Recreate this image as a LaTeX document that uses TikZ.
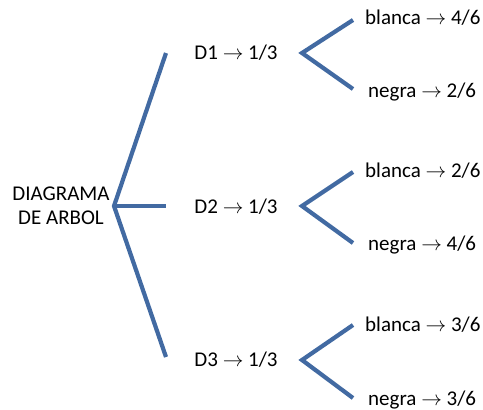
\documentclass[tikz,border=0pt]{standalone}
\usepackage{fontspec}
\setmainfont{Carlito}
\begin{document}
\begin{tikzpicture}[x=1bp,y=-1bp,
  branch/.style={draw=treeblue,line width=4.2bp},
  lbl/.style={inner sep=0pt,font=\fontsize{21bp}{24bp}\selectfont},
]
\definecolor{treeblue}{RGB}{66,106,162}
\useasboundingbox (0,0) rectangle (483,409);
% root
\node[lbl,align=center] (root) at (61,206) {DIAGRAMA\\DE ARBOL};
\coordinate (r) at (114,206);
\coordinate (e1) at (166,53);
\coordinate (e2) at (166,206);
\coordinate (e3) at (166,357);
\draw[branch,line join=miter] (e1) -- (r) -- (e3);
\draw[branch] (r) -- (e2);
% second level labels
\node[lbl] (d1) at (236,53) {D1 $\rightarrow$ 1/3};
\node[lbl] (d2) at (236,207) {D2 $\rightarrow$ 1/3};
\node[lbl] (d3) at (236,360) {D3 $\rightarrow$ 1/3};
% sub branches
\coordinate (v1) at (302,53);
\coordinate (u1) at (353,20);
\coordinate (l1) at (353,89);
\coordinate (v2) at (302,206);
\coordinate (u2) at (353,172);
\coordinate (l2) at (353,243);
\coordinate (v3) at (302,360);
\coordinate (u3) at (353,325);
\coordinate (l3) at (353,398);
\draw[branch,line join=miter] (u1) -- (v1) -- (l1);
\draw[branch,line join=miter] (u2) -- (v2) -- (l2);
\draw[branch,line join=miter] (u3) -- (v3) -- (l3);
% leaves
\node[lbl,anchor=west] (b1) at (365,18) {blanca $\rightarrow$ 4/6};
\node[lbl,anchor=west] (n1) at (368,92) {negra $\rightarrow$ 2/6};
\node[lbl,anchor=west] (b2) at (365,171) {blanca $\rightarrow$ 2/6};
\node[lbl,anchor=west] (n2) at (368,245) {negra $\rightarrow$ 4/6};
\node[lbl,anchor=west] (b3) at (365,325) {blanca $\rightarrow$ 3/6};
\node[lbl,anchor=west] (n3) at (368,400) {negra $\rightarrow$ 3/6};
\end{tikzpicture}
\end{document}
